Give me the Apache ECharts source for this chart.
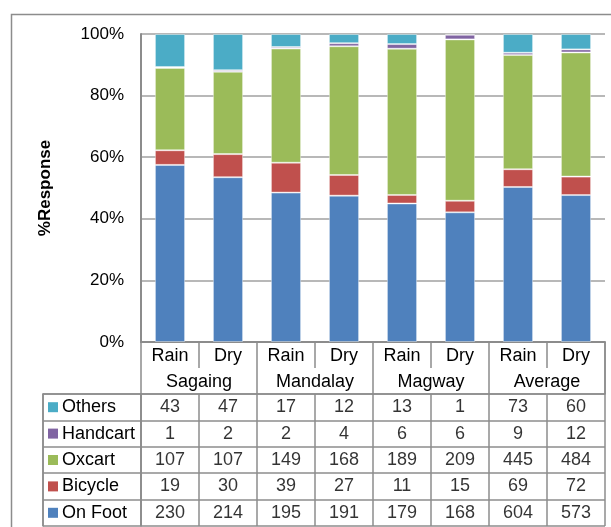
<!DOCTYPE html>
<html>
<head>
<meta charset="utf-8">
<script src="https://cdn.jsdelivr.net/npm/echarts@6/dist/echarts.min.js"></script>
<style>
  html, body { margin: 0; padding: 0; background: #fff; }
  #chart { width: 611px; height: 527px; }
</style>
</head>
<body>
<div id="chart"></div>
<script>
// Season columns and the region each pair belongs to
const seasons = ['Rain', 'Dry', 'Rain', 'Dry', 'Rain', 'Dry', 'Rain', 'Dry'];
const regions = ['Sagaing', 'Mandalay', 'Magway', 'Average'];

// Response counts per transport mode, one value per column
const onFoot   = [230, 214, 195, 191, 179, 168, 604, 573];
const bicycle  = [19, 30, 39, 27, 11, 15, 69, 72];
const oxcart   = [107, 107, 149, 168, 189, 209, 445, 484];
const handcart = [1, 2, 2, 4, 6, 6, 9, 12];
const others   = [43, 47, 17, 12, 13, 1, 73, 60];

// Y axis ticks (percent)
const yTicks = [0, 20, 40, 60, 80, 100];

const FONT = "'Liberation Sans', Arial, sans-serif";
const LINE = '#8c8c8c';
const FS = 18;

const modes = [
  { name: 'On Foot',  values: onFoot,   color: '#4F81BD' },
  { name: 'Bicycle',  values: bicycle,  color: '#C0504D' },
  { name: 'Oxcart',   values: oxcart,   color: '#9BBB59' },
  { name: 'Handcart', values: handcart, color: '#8064A2' },
  { name: 'Others',   values: others,   color: '#4BACC6' }
];

const totals = seasons.map((_, i) => modes.reduce((s, m) => s + m.values[i], 0));

// Table rows listed top to bottom
const tableRows = modes.slice().reverse();

const barSeries = modes.map(m => ({
  name: m.name,
  type: 'bar',
  stack: 'share',
  xAxisIndex: 0,
  yAxisIndex: 0,
  barWidth: '52%',
  itemStyle: { color: m.color, borderColor: 'rgba(255,255,255,0.4)', borderWidth: 1 },
  data: m.values.map((v, i) => v / totals[i] * 100)
}));

const cellData = [];
tableRows.forEach((m, r) => {
  m.values.forEach((v, c) => cellData.push([c, r, v]));
});

const legendRich = {};
tableRows.forEach((m, r) => {
  legendRich['k' + r] = { backgroundColor: m.color, width: 10, height: 10 };
});
legendRich.t = { fontSize: FS, color: '#000', fontFamily: FONT, padding: [0, 0, 0, 4] };

const chart = echarts.init(document.getElementById('chart'), null, { renderer: 'canvas' });

chart.setOption({
  animation: false,
  backgroundColor: '#fff',
  textStyle: { fontFamily: FONT, color: '#000' },
  grid: [
    { left: 141, right: 6, top: 34, height: 308 },
    { left: 141, right: 6, top: 394, bottom: 1 },
    { left: 43, width: 98, top: 394, bottom: 1 }
  ],
  xAxis: [
    {
      type: 'category', gridIndex: 0, data: seasons, position: 'bottom',
      axisLine: { show: true, lineStyle: { color: LINE, width: 2 } },
      axisTick: { show: true, length: 26, interval: 0, lineStyle: { color: LINE, width: 1.5 } },
      axisLabel: { fontSize: FS, color: '#000', margin: 5, fontFamily: FONT, interval: 0 }
    },
    {
      type: 'category', gridIndex: 0, data: regions, position: 'bottom', offset: 26,
      axisLine: { show: false },
      axisTick: { show: true, length: 26, interval: 0, lineStyle: { color: LINE, width: 1.5 } },
      axisLabel: { fontSize: FS, color: '#000', margin: 5, fontFamily: FONT, interval: 0 }
    },
    {
      type: 'category', gridIndex: 1, data: seasons, position: 'top',
      axisLine: { show: true, lineStyle: { color: LINE, width: 1.5 } },
      axisTick: { show: false }, axisLabel: { show: false },
      splitLine: { show: true, interval: 0, lineStyle: { color: LINE, width: 1.5 } }
    },
    {
      type: 'category', gridIndex: 2, data: [''], position: 'top',
      axisLine: { show: true, lineStyle: { color: LINE, width: 1.5 } },
      axisTick: { show: false }, axisLabel: { show: false },
      splitLine: { show: true, interval: 0, lineStyle: { color: LINE, width: 1.5 } }
    }
  ],
  yAxis: [
    {
      type: 'value', gridIndex: 0, min: 0, max: 100, interval: 20,
      name: '%Response', nameLocation: 'middle', nameGap: 87, nameRotate: 90,
      nameTextStyle: { fontSize: 17, fontWeight: 'bold', color: '#000', fontFamily: FONT },
      axisLine: { show: true, lineStyle: { color: LINE, width: 2 } },
      axisTick: { show: false },
      axisLabel: {
        fontSize: 17, color: '#000', margin: 17, fontFamily: FONT,
        formatter: v => (yTicks.indexOf(v) >= 0 ? v + '%' : '')
      },
      splitLine: { show: true, lineStyle: { color: '#a0a0a0', width: 1.5 } }
    },
    {
      type: 'category', gridIndex: 1, data: tableRows.map(m => m.name), inverse: true,
      axisLine: { show: true, lineStyle: { color: LINE, width: 1.5 } },
      axisTick: { show: false }, axisLabel: { show: false },
      splitLine: { show: true, interval: 0, lineStyle: { color: LINE, width: 1.5 } }
    },
    {
      type: 'category', gridIndex: 2, data: tableRows.map(m => m.name), inverse: true,
      axisLine: { show: true, lineStyle: { color: LINE, width: 1.5 } },
      axisTick: { show: false },
      axisLabel: {
        inside: true, margin: 5, interval: 0,
        formatter: (v, idx) => '{k' + idx + '|}{t|' + v + '}',
        rich: legendRich
      },
      splitLine: { show: true, interval: 0, lineStyle: { color: LINE, width: 1.5 } }
    }
  ],
  series: barSeries.concat([
    {
      type: 'scatter', xAxisIndex: 2, yAxisIndex: 1, symbolSize: 0, silent: true,
      data: cellData,
      label: {
        show: true, position: 'inside', fontSize: FS, color: '#000', fontFamily: FONT,
        formatter: p => String(p.value[2])
      }
    }
  ]),
  graphic: [
    {
      type: 'rect', silent: true, z: -1,
      shape: { x: 11.5, y: 14.5, width: 700, height: 600 },
      style: { fill: 'none', stroke: '#8c8c8c', lineWidth: 1.5 }
    },
    {
      // right border of the table
      type: 'line', silent: true,
      shape: { x1: 605, y1: 342, x2: 605, y2: 394 },
      style: { stroke: LINE, lineWidth: 1.5 }
    }
  ]
});
</script>
</body>
</html>
